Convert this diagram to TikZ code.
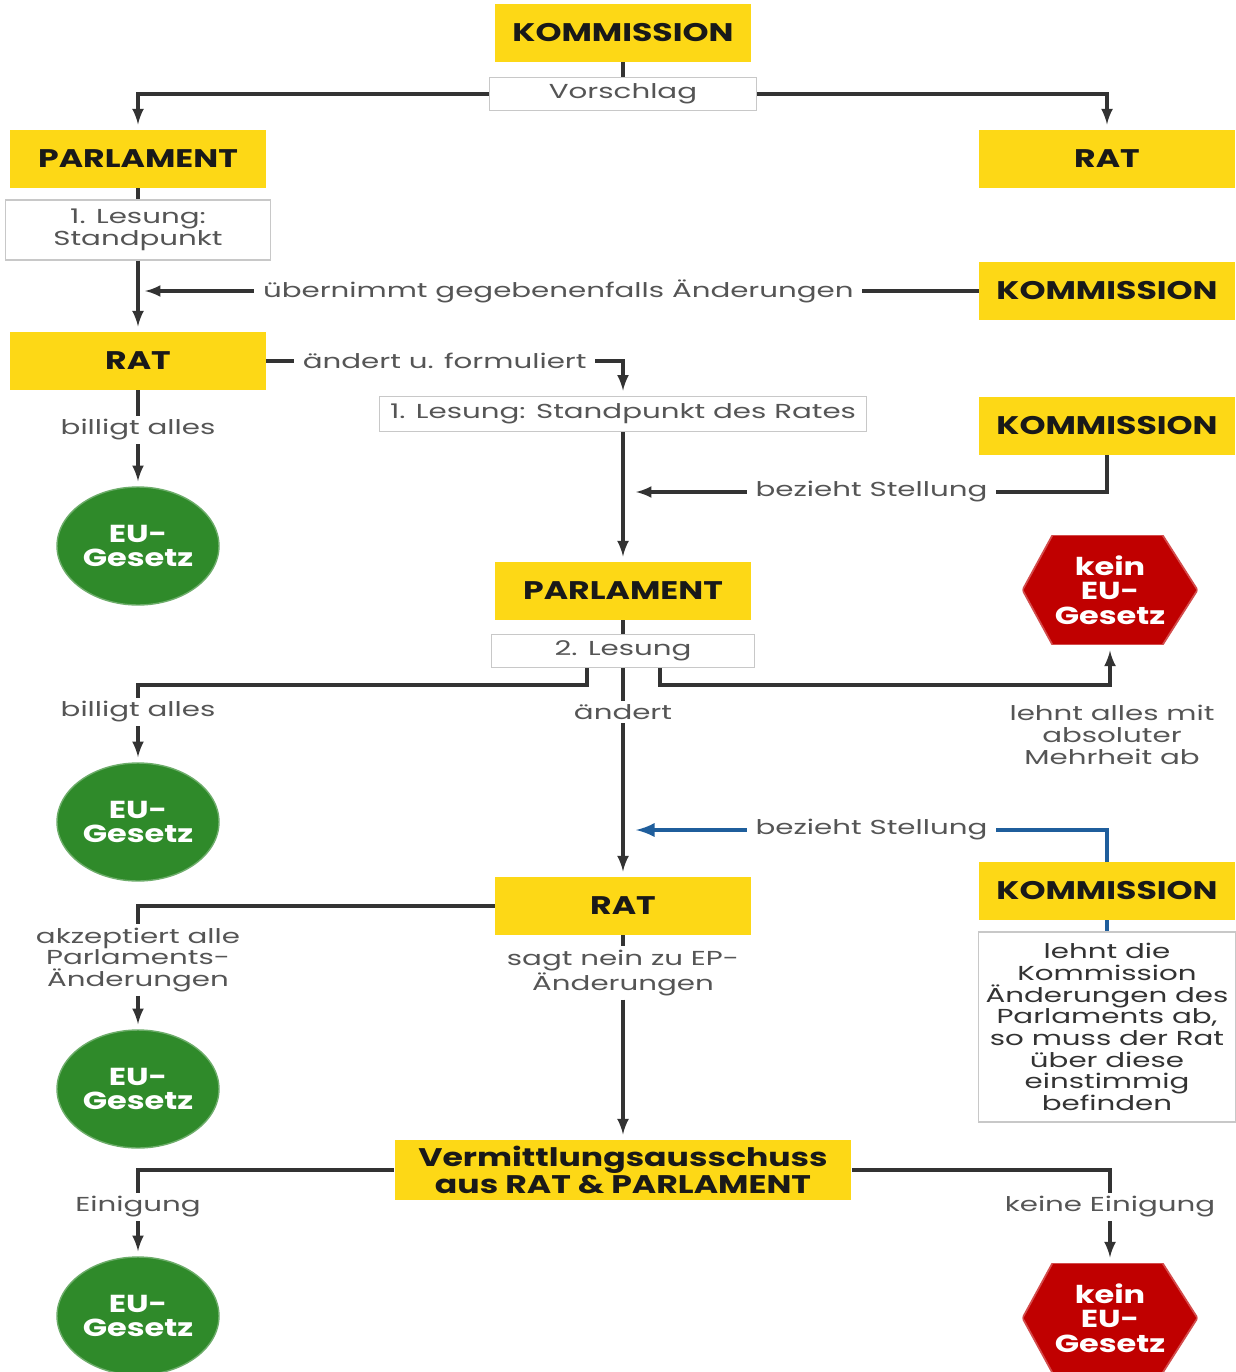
\documentclass[tikz,border=0pt]{standalone}
\usepackage{fontspec}
\setmainfont[FakeStretch=1.3]{Poppins}
\newfontfamily\lblfam[FakeStretch=1.45]{Poppins}
\usepackage{tikz}
\usetikzlibrary{arrows}
\usetikzlibrary{shapes.geometric}
\usetikzlibrary{positioning}

\definecolor{eugelb}{HTML}{FDD816}
\definecolor{eugruen}{HTML}{2F8A2A}
\definecolor{eurot}{HTML}{C00000}
\definecolor{linecol}{HTML}{333333}
\definecolor{boxgray}{HTML}{C8C8C8}
\definecolor{txtgray}{HTML}{555555}
\definecolor{kblau}{HTML}{1F5E9C}

\newcommand{\hdfont}{\fontsize{14.5}{15}\selectfont\bfseries}
\newcommand{\lawfont}{\fontsize{14}{14}\selectfont\bfseries}
\newcommand{\lblfont}{\lblfam\fontsize{11.5}{12.3}\selectfont}

\tikzset{
  organ/.style={rectangle, fill=eugelb, minimum width=5.12cm, minimum height=1.16cm, inner sep=0pt, font=\hdfont, text=black!90, align=center},
  stepbox/.style={rectangle, draw=boxgray, line width=0.8pt, fill=white, inner sep=0pt, font=\lblfont, text=txtgray, align=center},
  lbl/.style={font=\lblfont, text=txtgray, align=center, inner sep=2pt},
  midlbl/.style={lbl, fill=white, inner xsep=5pt},
  law/.style={ellipse, fill=eugruen, draw=eugruen!70!white, line width=0.8pt, minimum width=3.24cm, minimum height=2.36cm, text=white, font=\lawfont, align=center, inner sep=0pt},
  nolaw/.style={rectangle, minimum width=3.5cm, minimum height=2.2cm, text=white, font=\lawfont, align=center, inner sep=0pt,
    path picture={\fill [eurot, draw=eurot!70!white, line width=1pt] (path picture bounding box.west) -- ([xshift=0.6cm]path picture bounding box.north west) -- ([xshift=-0.7cm]path picture bounding box.north east) -- (path picture bounding box.east) -- ([xshift=-0.7cm]path picture bounding box.south east) -- ([xshift=0.6cm]path picture bounding box.south west) -- cycle;}},
  conn/.style={draw=linecol, line width=2pt},
}

\begin{document}
\begin{tikzpicture}[x=0.02cm, y=-0.02cm]
\useasboundingbox [fill=white] (0, 0) rectangle (1235, 1372);

% first reading
\node [organ] (KOM1) at (623, 33) {KOMMISSION};
\node [stepbox, minimum width=5.34cm, minimum height=0.66cm] (VOR) at (623, 94) {Vorschlag};
\node [organ] (PAR1) at (138, 159) {PARLAMENT};
\node [organ] (RAT1) at (1107, 159) {RAT};
\node [stepbox, minimum width=5.3cm, minimum height=1.2cm] (LES1) at (138, 230) {1. Lesung:\\Standpunkt};
\node [organ] (KOM2) at (1107, 291) {KOMMISSION};
\node [organ] (RAT2) at (138, 361) {RAT};
\node [stepbox, minimum width=9.74cm, minimum height=0.7cm] (LES2) at (623, 414) {1. Lesung: Standpunkt des Rates};
\node [organ] (KOM3) at (1107, 426) {KOMMISSION};
\node [lbl] (L1) at (138, 430) {billigt alles};
\node [law] (EU1) at (138, 546) {EU-\\Gesetz};

% second reading
\node [organ] (PAR2) at (623, 591) {PARLAMENT};
\node [nolaw] (NO1) at (1110, 590) {kein\\EU-\\Gesetz};
\node [stepbox, minimum width=5.26cm, minimum height=0.66cm] (LES3) at (623, 651) {2. Lesung};
\node [lbl] (L2) at (138, 712) {billigt alles};
\node [lbl] (L3) at (623, 712) {ändert};
\node [lbl] (LNO) at (1112, 735) {lehnt alles mit\\absoluter\\Mehrheit ab};
\node [law] (EU2) at (138, 822) {EU-\\Gesetz};
\node [organ] (RAT3) at (623, 906) {RAT};
\node [organ] (KOM4) at (1107, 891) {KOMMISSION};
\node [lbl] (L4) at (138, 960) {akzeptiert alle\\Parlaments-\\Änderungen};
\node [lbl] (L5) at (623, 973) {sagt nein zu EP-\\Änderungen};
\node [stepbox, minimum width=5.14cm, minimum height=3.8cm, text=linecol] (TXT) at (1107, 1027) {lehnt die\\Kommission\\Änderungen des\\Parlaments ab,\\so muss der Rat\\über diese\\einstimmig\\befinden};
\node [law] (EU3) at (138, 1089) {EU-\\Gesetz};

% conciliation
\node [organ, minimum width=9.14cm, minimum height=1.2cm] (VA) at (623, 1170) {Vermittlungsausschuss\\aus RAT \& PARLAMENT};
\node [lbl] (L6) at (138, 1207) {Einigung};
\node [lbl] (L7) at (1110, 1207) {keine Einigung};
\node [law] (EU4) at (138, 1316) {EU-\\Gesetz};
\node [nolaw] (NO2) at (1110, 1318) {kein\\EU-\\Gesetz};

\coordinate (J1) at (636, 492);
\coordinate (J2) at (636, 830);

\draw [conn] (KOM1) to (VOR);
\draw [conn, -latex, shorten >=3pt] (VOR.west) -| (PAR1.north);
\draw [conn, -latex, shorten >=3pt] (VOR.east) -| (RAT1.north);
\draw [conn] (PAR1) to (LES1);
\draw [conn, -latex, shorten >=3pt] (LES1) to (RAT2);
\draw [conn, -latex, shorten >=4pt] (KOM2.west) -- node [midlbl] {übernimmt gegebenenfalls Änderungen} (KOM2.west -| LES1.south);
\draw [conn, -latex, shorten >=3pt] (RAT2.east) -| node [midlbl, pos=0.25] {ändert u. formuliert} (LES2.north);
\draw [conn] (RAT2) to (L1);
\draw [conn, -latex, shorten >=3pt] (L1) to (EU1);
\draw [conn, -latex] (KOM3.south) |- node [midlbl, pos=0.75] {bezieht Stellung} (J1);
\draw [conn, -latex, shorten >=3pt] (LES2) to (PAR2);
\draw [conn] (PAR2) to (LES3);
\draw [conn] ([shift={(-36, 0)}]LES3.south) -- ++(0, 17) -| (L2.north);
\draw [conn, -latex, shorten >=3pt] (L2) to (EU2);
\draw [conn] (LES3) to (L3);
\draw [conn, -latex, shorten >=3pt] (L3) to (RAT3);
\draw [conn, -latex, shorten >=3pt] ([shift={(37, 0)}]LES3.south) -- ++(0, 17) -| (NO1.south);
\draw [conn, draw=kblau, line width=2.6pt, -latex] (KOM4.north) |- node [midlbl, pos=0.75] {bezieht Stellung} (J2);
\draw [conn, draw=kblau, line width=2.6pt] (KOM4) to (TXT);
\draw [conn] (RAT3.west) -| (L4.north);
\draw [conn, -latex, shorten >=3pt] (L4) to (EU3);
\draw [conn] (RAT3) to (L5);
\draw [conn, -latex, shorten >=3pt] (L5) to (VA);
\draw [conn] (VA.west) -| (L6.north);
\draw [conn, -latex, shorten >=3pt] (L6) to (EU4);
\draw [conn] (VA.east) -| (L7.north);
\draw [conn, -latex, shorten >=3pt] (L7) to (NO2);
\end{tikzpicture}
\end{document}
